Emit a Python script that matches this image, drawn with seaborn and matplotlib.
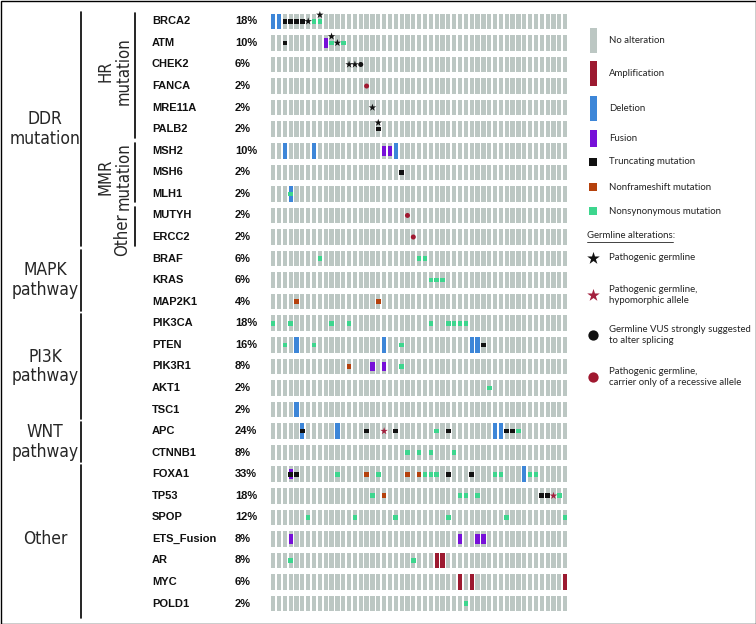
"""
Oncoprint of somatic and germline alterations across 51 tumour samples,
grouped by pathway (DDR / MAPK / PI3K / WNT / Other).

Usage:
    python plot.py
"""

import numpy as np
import pandas as pd
import matplotlib.pyplot as plt
import matplotlib.transforms as mtransforms
from matplotlib.patches import Rectangle
import seaborn as sns

# ----------------------------
# Data
# ----------------------------
N_SAMPLES = 51

GENES = ["BRCA2", "ATM", "CHEK2", "FANCA", "MRE11A", "PALB2",
         "MSH2", "MSH6", "MLH1", "MUTYH", "ERCC2",
         "BRAF", "KRAS", "MAP2K1",
         "PIK3CA", "PTEN", "PIK3R1", "AKT1", "TSC1",
         "APC", "CTNNB1",
         "FOXA1", "TP53", "SPOP", "ETS_Fusion", "AR", "MYC", "POLD1"]
PCT_LABELS = ["18%", "10%", "6%", "2%", "2%", "2%",
              "10%", "2%", "2%", "2%", "2%",
              "6%", "6%", "4%",
              "18%", "16%", "8%", "2%", "2%",
              "24%", "8%",
              "33%", "18%", "12%", "8%", "8%", "6%", "2%"]

# sample (column) indices per gene for each alteration type
AMPLIFICATION = {"AR": [28, 29], "MYC": [32, 34, 50]}
DELETION = {"BRCA2": [0, 1], "MSH2": [2, 7, 21], "MLH1": [3],
            "PTEN": [4, 19, 34, 35], "TSC1": [4],
            "APC": [5, 11, 38, 39], "FOXA1": [43]}
FUSION = {"ATM": [9], "MSH2": [19, 20], "PIK3R1": [17, 19],
          "FOXA1": [3], "ETS_Fusion": [3, 32, 35, 36]}
TRUNCATING = {"BRCA2": [2, 3, 4, 5], "ATM": [2], "PALB2": [18], "MSH6": [22],
              "PTEN": [36], "APC": [5, 16, 21, 30, 40, 41],
              "FOXA1": [3, 4, 30, 34], "TP53": [46, 47]}
NONFRAMESHIFT = {"MAP2K1": [4, 18], "PIK3R1": [13],
                 "FOXA1": [16, 23, 25], "TP53": [19]}
NONSYNONYMOUS = {"BRCA2": [7, 8], "ATM": [10, 12], "MLH1": [3],
                 "BRAF": [8, 25, 26], "KRAS": [27, 28, 29],
                 "PIK3CA": [0, 3, 10, 13, 27, 30, 31, 32, 33],
                 "PTEN": [2, 7, 22], "PIK3R1": [22], "AKT1": [37],
                 "APC": [28, 42], "CTNNB1": [23, 25, 27, 31],
                 "FOXA1": [11, 18, 26, 27, 28, 38, 39, 44, 45],
                 "TP53": [17, 32, 33, 35, 49],
                 "SPOP": [6, 14, 21, 30, 40, 50], "AR": [3, 24], "POLD1": [33]}
GERMLINE_PATHOGENIC = {"BRCA2": [6, 8], "ATM": [10, 11], "CHEK2": [13, 14],
                       "MRE11A": [17], "PALB2": [18]}
GERMLINE_HYPOMORPHIC = {"APC": [19], "TP53": [48]}
GERMLINE_VUS_SPLICE = {"CHEK2": [15]}
GERMLINE_RECESSIVE = {"FANCA": [16], "MUTYH": [23], "ERCC2": [24]}

# pathway groups: (label, first gene, last gene)
GROUPS = [("DDR\nmutation", "BRCA2", "ERCC2"),
          ("MAPK\npathway", "BRAF", "MAP2K1"),
          ("PI3K\npathway", "PIK3CA", "TSC1"),
          ("WNT\npathway", "APC", "CTNNB1"),
          ("Other", "FOXA1", "POLD1")]
SUBGROUPS = [("HR\nmutation", "BRCA2", "PALB2"),
             ("MMR\nmutation", "MSH2", "MLH1"),
             ("Other", "MUTYH", "ERCC2")]

# ----------------------------
# Style
# ----------------------------
GREY = "#bcc7c3"
COLORS = {"Amplification": "#9c1a30", "Deletion": "#3d86d8", "Fusion": "#7710d8",
          "Truncating": "#111111", "Nonframeshift": "#b5410c",
          "Nonsynonymous": "#3dd68e",
          "Pathogenic": "#111111", "Hypomorphic": "#a3203e",
          "VUS": "#111111", "Recessive": "#a01830"}
MARKERS = {"Truncating": "s", "Nonframeshift": "s", "Nonsynonymous": "s",
           "Pathogenic": "*", "Hypomorphic": "*", "VUS": "o", "Recessive": "o"}
SIZES = {"Truncating": 11, "Nonframeshift": 11, "Nonsynonymous": 11,
         "Pathogenic": 32, "Hypomorphic": 32, "VUS": 13, "Recessive": 13}
CELL_W, CELL_H, FUSION_H = 0.73, 0.72, 0.45

sns.set_theme(style="white")
plt.rcParams['font.family'] = ['Liberation Sans', 'DejaVu Sans']
COND = dict(family=['DejaVu Sans'], stretch='condensed')
LEGEND_FONT = ['Lato', 'DejaVu Sans']

row_of = {g: i for i, g in enumerate(GENES)}


def expand(d):
    return [(s, row_of[g]) for g, cols in d.items() for s in cols]


# ----------------------------
# Figure
# ----------------------------
fig = plt.figure(figsize=(7.56, 6.24), dpi=100)
ov = fig.add_axes([0, 0, 1, 1])
ov.set_xlim(0, 756)
ov.set_ylim(624, 0)
ov.axis("off")

ax = fig.add_axes([0.35745, 0.01538, 0.39397, 0.9677])
ax.patch.set_alpha(0)

# background cells
xs, ys = np.meshgrid(np.arange(N_SAMPLES), np.arange(len(GENES)))
ax.bar(xs.ravel(), CELL_H, bottom=ys.ravel() - CELL_H / 2, width=CELL_W,
       color=GREY, linewidth=0)

# full / partial height bars
for name, d, h in [("Amplification", AMPLIFICATION, CELL_H),
                   ("Deletion", DELETION, CELL_H),
                   ("Fusion", FUSION, FUSION_H)]:
    pts = expand(d)
    ax.bar([p[0] for p in pts], h, bottom=[p[1] - h / 2 for p in pts],
           width=CELL_W, color=COLORS[name], linewidth=0)

# point marks (mutations and germline)
somatic = [("Truncating", TRUNCATING), ("Nonframeshift", NONFRAMESHIFT),
           ("Nonsynonymous", NONSYNONYMOUS)]
germline = [("Pathogenic", GERMLINE_PATHOGENIC), ("Hypomorphic", GERMLINE_HYPOMORPHIC),
            ("VUS", GERMLINE_VUS_SPLICE), ("Recessive", GERMLINE_RECESSIVE)]
somatic_cells = set()
records = []
for kind, d in somatic:
    for s, r in expand(d):
        somatic_cells.add((s, r))
        records.append((s, r, kind))
for kind, d in germline:
    for s, r in expand(d):
        # germline mark sits on top of the cell when a somatic mark is there
        records.append((s, r - 0.3 if (s, r) in somatic_cells else r, kind))
marks = pd.DataFrame(records, columns=["sample", "row", "kind"])

sns.scatterplot(data=marks, x="sample", y="row", hue="kind", style="kind",
                size="kind", palette=COLORS, markers=MARKERS, sizes=SIZES,
                linewidth=0, legend=False, ax=ax, zorder=3)

ax.set_xlim(-0.5, N_SAMPLES - 0.5)
ax.set_ylim(len(GENES) - 0.5, -0.5)
ax.axis("off")

# gene names and percentages
trans = mtransforms.blended_transform_factory(ov.transData, ax.transData)
for i, (g, p) in enumerate(zip(GENES, PCT_LABELS)):
    ov.text(152, i, g, transform=trans, ha="left", va="center",
            fontsize=8, fontweight="bold", color="#111111")
    ov.text(235, i, p, transform=trans, ha="left", va="center",
            fontsize=8, fontweight="bold", color="#111111")

# pathway brackets
for k, (label, g0, g1) in enumerate(GROUPS):
    r0, r1 = row_of[g0], row_of[g1]
    end = r1 + (0.65 if k == len(GROUPS) - 1 else 0.42)
    ov.plot([81, 81], [r0 - 0.42, end], transform=trans, color="black", lw=1.2)
    ov.text(45, (r0 + r1) / 2, label, transform=trans, ha="center", va="center",
            fontsize=12.5, linespacing=1.1, **COND)

# sub-group label placement: (x pixel, row offset from group middle)
SUB_POS = {"HR\nmutation": (115, -0.2), "MMR\nmutation": (115, 0.2), "Other": (122, 0.4)}
for label, g0, g1 in SUBGROUPS:
    r0, r1 = row_of[g0], row_of[g1]
    ov.plot([135, 135], [r0 - 0.38, r1 + 0.4], transform=trans, color="black", lw=1.2)
    x, dy = SUB_POS[label]
    ov.text(x, (r0 + r1) / 2 + dy, label, transform=trans, ha="center", va="center",
            rotation=90, fontsize=12, linespacing=1.0, **COND)

# ----------------------------
# Legend (pixel coordinates)
# ----------------------------
leg_bars = [("No alteration", GREY, 28, 25),
            ("Amplification", COLORS["Amplification"], 61, 25),
            ("Deletion", COLORS["Deletion"], 96, 25),
            ("Fusion", COLORS["Fusion"], 130, 17)]
for text, col, top, h in leg_bars:
    ov.add_patch(Rectangle((589.5, top), 7.5, h, color=col, lw=0))
    ov.text(609, top + h / 2, text, ha="left", va="center", fontsize=6.9,
            family=LEGEND_FONT, color="#222222")

leg_squares = [("Truncating mutation", "Truncating", 162),
               ("Nonframeshift mutation", "Nonframeshift", 187),
               ("Nonsynonymous mutation", "Nonsynonymous", 211)]
for text, kind, y in leg_squares:
    ov.add_patch(Rectangle((589.3, y - 4), 8, 8, color=COLORS[kind], lw=0))
    ov.text(609, y, text, ha="left", va="center", fontsize=6.9,
            family=LEGEND_FONT, color="#222222")

ov.text(587, 236, "Germline alterations:", ha="left", va="center", fontsize=6.9,
        family=LEGEND_FONT, color="#222222")
ov.plot([587, 673], [242, 242], color="#222222", lw=0.6)

leg_germ = [("Pathogenic germline", "Pathogenic", 258, 90),
            ("Pathogenic germline,\nhypomorphic allele", "Hypomorphic", 295, 90),
            ("Germline VUS strongly suggested\nto alter splicing", "VUS", 335, 55),
            ("Pathogenic germline,\ncarrier only of a recessive allele", "Recessive", 377, 55)]
for text, kind, y, s in leg_germ:
    ov.scatter([593], [y], marker=MARKERS[kind], s=s, color=COLORS[kind], lw=0)
    ov.text(609, y, text, ha="left", va="center", fontsize=6.9,
            family=LEGEND_FONT, color="#222222", linespacing=1.3)

# outer frame
ov.add_patch(Rectangle((0.5, 0.5), 755, 623, fill=False, ec="black", lw=1.0))

fig.savefig("out.png", dpi=100)
